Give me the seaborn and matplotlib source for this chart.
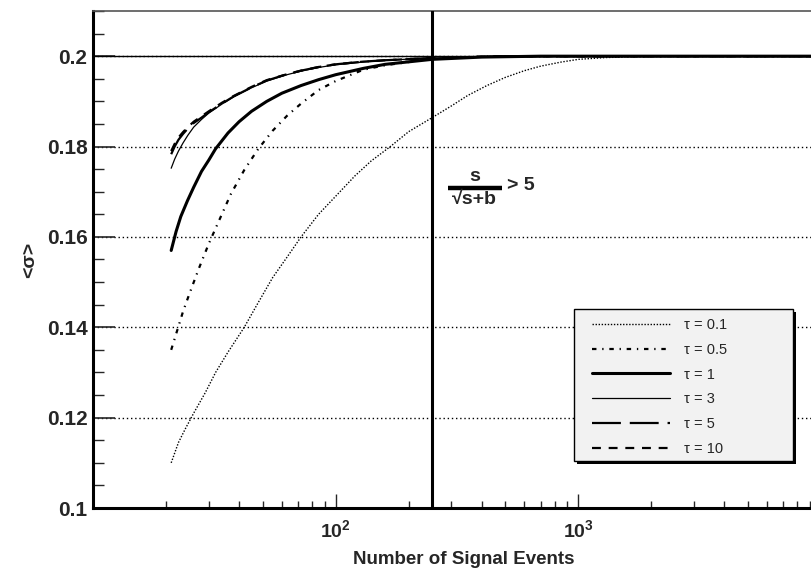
import numpy as np
import pandas as pd
import matplotlib
matplotlib.use("Agg")
import matplotlib.pyplot as plt
import matplotlib.ticker as mticker
from matplotlib.patches import Rectangle
from matplotlib.lines import Line2D
import seaborn as sns

# ---- data ----
n_t01 = [21, 22.5, 24, 26, 29, 32, 36, 42, 48, 55, 63, 72, 85, 100, 120, 140, 168, 200, 248,
         300, 350, 420, 500, 600, 700, 850, 1000, 1300, 2000, 10000]
v_t01 = [0.110, 0.1145, 0.1175, 0.121, 0.1255, 0.130, 0.1345, 0.140, 0.1455, 0.151, 0.1555, 0.160,
         0.165, 0.169, 0.1735, 0.1768, 0.180, 0.1833, 0.1863, 0.189, 0.1913, 0.1935, 0.1953, 0.1968,
         0.1978, 0.1987, 0.1993, 0.1997, 0.2, 0.2]

n_t05 = [21, 22, 23.5, 25, 27.3, 30, 33, 37, 42, 48, 55, 63, 72, 85, 100, 130, 160, 250, 400, 700, 10000]
v_t05 = [0.135, 0.1385, 0.1435, 0.1475, 0.153, 0.1585, 0.1635, 0.1695, 0.1748, 0.1795, 0.1835, 0.1868,
         0.1895, 0.1925, 0.1945, 0.197, 0.198, 0.1994, 0.1999, 0.2, 0.2]

n_t1 = [21, 22, 23, 24.5, 26, 28, 30, 32, 36, 40, 45, 52, 60, 72, 85, 100, 130, 160, 250, 400, 700, 10000]
v_t1 = [0.157, 0.1612, 0.1645, 0.168, 0.171, 0.1745, 0.177, 0.1795, 0.183, 0.1855, 0.1878, 0.190,
        0.1918, 0.1935, 0.1948, 0.1959, 0.1973, 0.1982, 0.1993, 0.1998, 0.2, 0.2]

n_t3 = [21, 21.7, 22.5, 23.5, 24.6, 26, 28, 30, 34, 38, 45, 52, 62, 72, 85, 100, 130, 160, 250, 500, 10000]
v_t3 = [0.1752, 0.1772, 0.179, 0.1808, 0.1825, 0.1843, 0.186, 0.1874, 0.1894, 0.191, 0.193, 0.1945,
        0.1958, 0.1967, 0.1975, 0.1981, 0.1987, 0.1991, 0.1996, 0.2, 0.2]

n_t5 = [21, 21.7, 22.5, 23.5, 24.6, 26, 28, 30, 34, 38, 45, 52, 62, 72, 85, 100, 130, 160, 250, 500, 10000]
v_t5 = [0.1783, 0.180, 0.1815, 0.1828, 0.184, 0.1852, 0.1864, 0.1876, 0.1895, 0.1911, 0.1931, 0.1946,
        0.1959, 0.1968, 0.1976, 0.1982, 0.1988, 0.1991, 0.1996, 0.2, 0.2]

n_t10 = [21, 21.7, 22.5, 23.5, 24.6, 26, 28, 30, 34, 38, 45, 52, 62, 72, 85, 100, 130, 160, 250, 500, 10000]
v_t10 = [0.179, 0.1806, 0.182, 0.1832, 0.1843, 0.1855, 0.1867, 0.1878, 0.1897, 0.1912, 0.1932, 0.1947,
         0.1959, 0.1968, 0.1976, 0.1982, 0.1988, 0.1991, 0.1996, 0.2, 0.2]

labels = ["τ = 0.1", "τ = 0.5", "τ = 1", "τ = 3", "τ = 5", "τ = 10"]
cut_n = 250          # s/sqrt(s+b) > 5 threshold
ref_sigma = 0.2

# ---- styling ----
sns.set_style("ticks")
plt.rcParams["font.family"] = ["Liberation Sans", "DejaVu Sans"]
plt.rcParams["mathtext.fontset"] = "custom"
plt.rcParams["mathtext.rm"] = "Liberation Sans:bold"
plt.rcParams["mathtext.it"] = "Liberation Sans:bold"
plt.rcParams["mathtext.bf"] = "Liberation Sans:bold"

W, H = 812, 573
fig = plt.figure(figsize=(W / 100, H / 100), dpi=100)
ax = fig.add_axes([93 / W, 1 - 508 / H, (821 - 93) / W, (508 - 11) / H])

series = [
    (n_t01, v_t01, dict(lw=1.0, linestyle=(0, (1, 1.2)))),
    (n_t05, v_t05, dict(lw=1.6, linestyle=(0, (2, 2.6, 0.6, 2.6)))),
    (n_t1, v_t1, dict(lw=2.2, linestyle="-")),
    (n_t3, v_t3, dict(lw=0.9, linestyle="-")),
    (n_t5, v_t5, dict(lw=1.6, linestyle=(0, (13, 4)))),
    (n_t10, v_t10, dict(lw=1.6, linestyle=(0, (4, 3.5)))),
]
for (nn, vv, kw), lab in zip(series, labels):
    df = pd.DataFrame({"N": nn, "sigma": vv})
    sns.lineplot(data=df, x="N", y="sigma", ax=ax, color="black",
                 estimator=None, sort=True, label=lab, legend=False, **kw)

ax.set_xscale("log")
ax.set_xlim(10, 10000)
ax.set_ylim(0.1, 0.21)

ax.axhline(ref_sigma, color="black", lw=1.0, zorder=1)
ax.axvline(cut_n, color="black", lw=2.2, zorder=3)

# ticks
ax.yaxis.set_major_locator(mticker.MultipleLocator(0.02))
ax.yaxis.set_minor_locator(mticker.MultipleLocator(0.005))
ax.yaxis.set_major_formatter(mticker.FuncFormatter(lambda v, p: f"{v:g}"))
ax.xaxis.set_major_locator(mticker.FixedLocator([100, 1000]))
ax.xaxis.set_minor_locator(mticker.LogLocator(base=10, subs=np.arange(2, 10), numticks=20))
ax.xaxis.set_major_formatter(mticker.FuncFormatter(
    lambda v, p: r"$10^{%d}$" % round(np.log10(v))))
ax.tick_params(axis="y", which="major", direction="in", length=16, width=1.2,
               labelsize=15, pad=4, left=True)
ax.tick_params(axis="y", which="minor", direction="in", length=8, width=1.0, left=True)
ax.tick_params(axis="x", which="major", direction="in", length=10, width=1.0,
               labelsize=14, pad=8, bottom=True)
ax.tick_params(axis="x", which="minor", direction="in", length=5, width=1.0, bottom=True)
for t in ax.get_yticklabels():
    t.set_fontweight("bold")

ax.yaxis.grid(True, which="major", color="black", lw=1.0, linestyle=(0, (1, 2)))
ax.xaxis.grid(False)

for s in ("left", "bottom"):
    ax.spines[s].set_linewidth(2.2)
    ax.spines[s].set_color("black")
ax.spines["top"].set_visible(True)
ax.spines["top"].set_linewidth(1.2)
ax.spines["top"].set_color("#555555")
ax.spines["right"].set_visible(False)

ax.set_xlabel("Number of Signal Events", fontsize=13.5, fontweight="bold")
ax.xaxis.set_label_coords((464 - 93) / (821 - 93), -(560 - 508) / (508 - 11), transform=ax.transAxes)
ax.xaxis.label.set_va("center")
ax.set_ylabel("<σ>", fontsize=14, fontweight="bold", labelpad=6)


def fx(px):
    return px / W


def fy(py):
    return 1 - py / H


# annotation s / sqrt(s+b) > 5
fig.text(fx(475), fy(177), "s", fontsize=14, fontweight="bold", ha="center", va="center")
fig.add_artist(Line2D([fx(448), fx(502)], [fy(187.5), fy(187.5)], lw=3.2, color="black",
                      solid_capstyle="butt"))
fig.text(fx(474), fy(191), "√s+b", fontsize=14, fontweight="bold", ha="center", va="top")
fig.text(fx(507), fy(186), "> 5", fontsize=14, fontweight="bold", ha="left", va="center")

# legend frame with shadow
lx0, ly0, lx1, ly1 = 574, 309, 793, 461
fig.add_artist(Rectangle((fx(lx0 + 3), fy(ly1 + 3)), (lx1 - lx0) / W, (ly1 - ly0) / H,
                         transform=fig.transFigure, facecolor="black", edgecolor="none", zorder=5))
fig.add_artist(Rectangle((fx(lx0), fy(ly1)), (lx1 - lx0) / W, (ly1 - ly0) / H,
                         transform=fig.transFigure, facecolor="#f2f2f2", edgecolor="black",
                         lw=1.0, zorder=6))
handles, labs = ax.get_legend_handles_labels()
leg = fig.legend(handles, labs, loc="upper left",
                 bbox_to_anchor=(fx(lx0 + 6), fy(ly0 - 3)),
                 frameon=False, fontsize=10.5, handlelength=5.4, handletextpad=0.9,
                 labelspacing=0.75, borderpad=0.3)
leg.set_zorder(7)

fig.savefig("out.png", dpi=100)
